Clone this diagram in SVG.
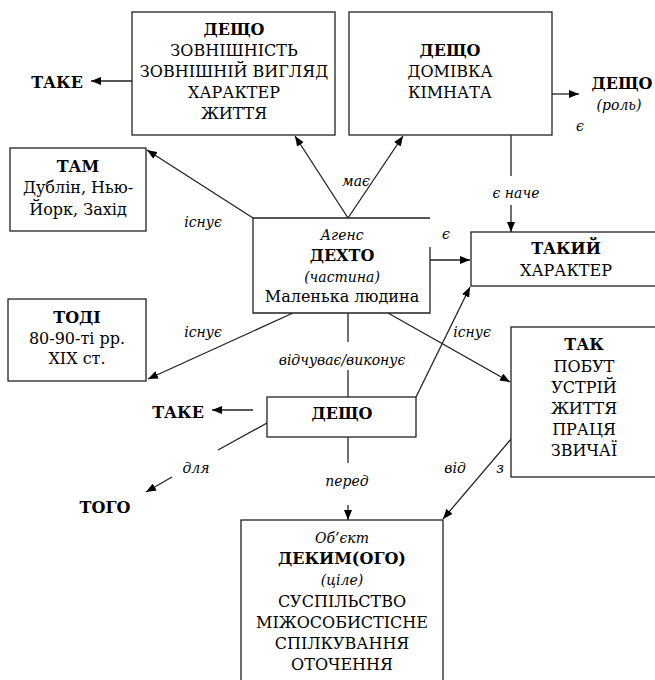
<svg xmlns="http://www.w3.org/2000/svg" width="655" height="680" viewBox="0 0 655 680">
<defs>
<marker id="ah" viewBox="0 0 10 8" refX="10" refY="4" markerWidth="10" markerHeight="8" markerUnits="userSpaceOnUse" orient="auto">
<path d="M0,0 L10,4 L0,8 Z" fill="#000"/>
</marker>
<style>
.box{fill:#fff;stroke:#222;stroke-width:1.3}
.ln{fill:none;stroke:#222;stroke-width:1.3}
.ar{fill:none;stroke:#222;stroke-width:1.3;marker-end:url(#ah)}
text{font-family:"DejaVu Serif","Liberation Serif",serif;font-size:16px;fill:#000;text-anchor:middle}
.b{font-weight:bold}
.i{font-style:italic;font-size:14px}
</style>
</defs>
<rect width="655" height="680" fill="#fff"/>

<g id="connectors">
<line class="ar" x1="132" y1="81" x2="91" y2="81"/>
<line class="ar" x1="348" y1="218" x2="295" y2="136"/>
<line class="ar" x1="348" y1="218" x2="403" y2="136"/>
<line class="ln" x1="511" y1="135" x2="511" y2="176"/>
<line class="ar" x1="511" y1="205" x2="511" y2="232"/>
<line class="ar" x1="552" y1="94" x2="579" y2="94"/>
<line class="ar" x1="430" y1="260" x2="470" y2="260"/>
<line class="ar" x1="253" y1="218" x2="147" y2="150"/>
<line class="ar" x1="293" y1="313" x2="148" y2="379"/>
<line class="ar" x1="388" y1="313" x2="510" y2="382"/>
<line class="ln" x1="348" y1="313" x2="348" y2="342"/>
<line class="ln" x1="348" y1="370" x2="348" y2="397"/>
<line class="ar" x1="416" y1="397" x2="470" y2="287"/>
<line class="ar" x1="253" y1="410" x2="212" y2="410"/>
<line class="ln" x1="267" y1="423" x2="218" y2="450"/>
<line class="ar" x1="172" y1="477" x2="146" y2="492"/>
<line class="ln" x1="348" y1="437" x2="348" y2="463"/>
<line class="ar" x1="348" y1="505" x2="348" y2="520"/>
<line class="ar" x1="512" y1="438" x2="443" y2="519"/>
<text class="i" x="356" y="186">має</text>
<text class="i" x="516" y="198">є наче</text>
<text class="i" x="580" y="131">є</text>
<text class="i" x="446" y="239">є</text>
<text class="i" x="203" y="227">існує</text>
<text class="i" x="203" y="337">існує</text>
<text class="i" x="472" y="337">існує</text>
<text class="i" x="342" y="365">відчуває/виконує</text>
<text class="i" x="196" y="473">для</text>
<text class="i" x="347" y="486">перед</text>
<text class="i" x="455" y="473">від</text>
<text class="i" x="500" y="473">з</text>
</g>

<g id="take-top">
<text class="b" x="57" y="88">ТАКЕ</text>
</g>

<g id="deshcho-1">
<rect class="box" x="132" y="12" width="203" height="123"/>
<text class="b" x="234" y="35">ДЕЩО</text>
<text x="234" y="56">ЗОВНІШНІСТЬ</text>
<text x="234" y="77">ЗОВНІШНІЙ ВИГЛЯД</text>
<text x="234" y="98">ХАРАКТЕР</text>
<text x="234" y="119">ЖИТТЯ</text>
</g>

<g id="deshcho-2">
<rect class="box" x="349" y="12" width="203" height="123"/>
<text class="b" x="450" y="56">ДЕЩО</text>
<text x="450" y="77">ДОМІВКА</text>
<text x="450" y="98">КІМНАТА</text>
</g>

<g id="deshcho-role">
<text class="b" x="622" y="89">ДЕЩО</text>
<text class="i" x="619" y="110">(роль)</text>
</g>

<g id="tam">
<rect class="box" x="10" y="148" width="136" height="83"/>
<text class="b" x="78" y="172">ТАМ</text>
<text x="78" y="193">Дублін, Нью-</text>
<text x="78" y="215">Йорк, Захід</text>
</g>

<g id="agent">
<path class="box" d="M430,247 V313 H253 V218 H430"/>
<text class="i" x="342" y="240">Агенс</text>
<text class="b" x="342" y="261">ДЕХТО</text>
<text class="i" x="342" y="282">(частина)</text>
<text x="342" y="302">Маленька людина</text>
</g>

<g id="takyi">
<rect class="box" x="471" y="232" width="192" height="54"/>
<text class="b" x="566" y="254">ТАКИЙ</text>
<text x="566" y="276">ХАРАКТЕР</text>
</g>

<g id="todi">
<rect class="box" x="8" y="299" width="138" height="82"/>
<text class="b" x="77" y="323">ТОДІ</text>
<text x="77" y="344">80-90-ті рр.</text>
<text x="77" y="364">XIX ст.</text>
</g>

<g id="tak">
<rect class="box" x="511" y="327" width="152" height="150"/>
<text class="b" x="584" y="350">ТАК</text>
<text x="584" y="372">ПОБУТ</text>
<text x="584" y="393">УСТРІЙ</text>
<text x="584" y="414">ЖИТТЯ</text>
<text x="584" y="435">ПРАЦЯ</text>
<text x="584" y="456">ЗВИЧАЇ</text>
</g>

<g id="deshcho-mid">
<rect class="box" x="267" y="397" width="149" height="40"/>
<text class="b" x="342" y="419">ДЕЩО</text>
</g>

<g id="take-mid">
<text class="b" x="178" y="418">ТАКЕ</text>
</g>

<g id="togo">
<text class="b" x="105" y="513">ТОГО</text>
</g>

<g id="object">
<rect class="box" x="241" y="520" width="202" height="175"/>
<text class="i" x="342" y="543">Об’єкт</text>
<text class="b" x="342" y="564">ДЕКИМ(ОГО)</text>
<text class="i" x="342" y="585">(ціле)</text>
<text x="342" y="607">СУСПІЛЬСТВО</text>
<text x="342" y="628">МІЖОСОБИСТІСНЕ</text>
<text x="342" y="649">СПІЛКУВАННЯ</text>
<text x="342" y="670">ОТОЧЕННЯ</text>
</g>
</svg>
